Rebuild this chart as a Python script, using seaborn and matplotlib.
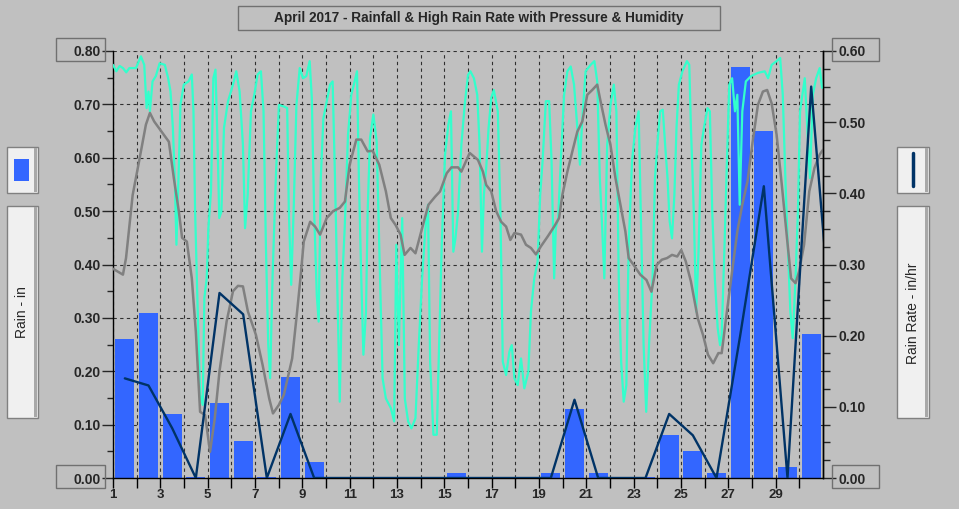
import matplotlib
matplotlib.use('Agg')
import matplotlib.pyplot as plt
import matplotlib.patches as mpatches
from matplotlib.lines import Line2D
from matplotlib.ticker import MultipleLocator
import pandas as pd
import seaborn as sns

# daily rainfall (in) and high rain rate (in/hr), April 2017
days = list(range(1, 31))
rain_in = [0.26, 0.31, 0.12, 0.002, 0.14, 0.07, 0.002, 0.19, 0.03, 0.0,
           0.0, 0.0, 0.0, 0.0, 0.01, 0.0, 0.0, 0.0, 0.01, 0.13,
           0.01, 0.0, 0.002, 0.08, 0.05, 0.01, 0.77, 0.65, 0.02, 0.27]
# rate points sit mid-day; last one is May 1 (clipped at the edge)
rate_days = [1.5, 2.5, 3.5, 4.5, 5.5, 6.5, 7.5, 8.5, 9.5, 10.5,
             11.5, 12.5, 13.5, 14.5, 15.5, 16.5, 17.5, 18.5, 19.5, 20.5,
             21.5, 22.5, 23.5, 24.5, 25.5, 26.5, 27.5, 28.5, 29.5, 30.5, 31.5]
rain_rate = [0.14, 0.13, 0.07, 0.0, 0.26, 0.23, 0.0, 0.09, 0.0, 0.0,
             0.0, 0.0, 0.0, 0.0, 0.0, 0.0, 0.0, 0.0, 0.0, 0.11,
             0.0, 0.0, 0.0, 0.09, 0.06, 0.0, 0.20, 0.41, 0.0, 0.55, 0.15]

# pressure and humidity have no axis on the chart: read against the rain scale
press_day = [1.0, 1.42, 1.55, 1.83, 2.1, 2.39, 2.56, 2.74, 3.0, 3.36, 3.57, 3.78, 3.92,
             4.12, 4.33, 4.5, 4.68, 4.89, 5.1, 5.3, 5.5, 5.8, 6.07, 6.28, 6.49, 6.7,
             7.04, 7.32, 7.6, 7.76, 8.01, 8.22, 8.57, 8.78, 8.92, 9.06, 9.33, 9.54,
             9.75, 10.03, 10.3, 10.58, 10.8, 11.0, 11.28, 11.49, 11.76, 11.97, 12.25,
             12.53, 12.74, 12.94, 13.15, 13.32, 13.57, 13.78, 14.06, 14.33, 14.61,
             14.82, 15.1, 15.3, 15.58, 15.72, 16.07, 16.42, 16.63, 16.77, 16.98,
             17.19, 17.4, 17.61, 17.79, 17.96, 18.24, 18.45, 18.66, 18.87, 19.08,
             19.36, 19.64, 19.85, 19.99, 20.2, 20.41, 20.62, 20.83, 21.04, 21.25,
             21.46, 21.6, 21.81, 22.02, 22.23, 22.44, 22.65, 22.79, 23.0, 23.28,
             23.54, 23.75, 23.97, 24.19, 24.41, 24.62, 24.84, 25.01, 25.2, 25.42,
             25.71, 25.93, 26.14, 26.36, 26.58, 26.72, 26.94, 27.16, 27.38, 27.59,
             27.81, 28.03, 28.25, 28.46, 28.64, 28.83, 29.04, 29.26, 29.48, 29.65,
             29.84, 29.99, 30.2, 30.42, 30.64, 30.86, 31.0]
press_val = [0.392, 0.381, 0.412, 0.53, 0.593, 0.662, 0.684, 0.668, 0.652, 0.63, 0.562, 0.5, 0.45,
             0.443, 0.374, 0.274, 0.124, 0.118, 0.049, 0.112, 0.2, 0.293, 0.35, 0.36, 0.359, 0.312,
             0.268, 0.212, 0.149, 0.121, 0.137, 0.156, 0.224, 0.312, 0.374, 0.443, 0.48, 0.471,
             0.456, 0.487, 0.5, 0.506, 0.518, 0.587, 0.634, 0.634, 0.612, 0.613, 0.587,
             0.537, 0.487, 0.474, 0.456, 0.418, 0.431, 0.421, 0.468, 0.512, 0.527,
             0.537, 0.571, 0.582, 0.582, 0.574, 0.609, 0.596, 0.574, 0.549, 0.537,
             0.5, 0.48, 0.471, 0.446, 0.459, 0.456, 0.437, 0.431, 0.419, 0.434,
             0.452, 0.471, 0.487, 0.531, 0.574, 0.612, 0.649, 0.668, 0.718, 0.727,
             0.737, 0.706, 0.662, 0.624, 0.562, 0.512, 0.462, 0.412, 0.399, 0.381,
             0.371, 0.349, 0.399, 0.409, 0.412, 0.418, 0.415, 0.427, 0.406, 0.368,
             0.299, 0.268, 0.231, 0.215, 0.234, 0.234, 0.312, 0.387, 0.462, 0.512,
             0.556, 0.631, 0.699, 0.724, 0.727, 0.702, 0.643, 0.549, 0.449, 0.374,
             0.365, 0.387, 0.437, 0.537, 0.581, 0.606, 0.615]

hum_day = [1.0, 1.14, 1.28, 1.42, 1.56, 1.69, 1.97, 2.18, 2.32, 2.42, 2.5, 2.56, 2.67, 2.81, 2.97,
           3.19, 3.33, 3.43, 3.53, 3.61, 3.68, 3.78, 3.85, 3.99, 4.19, 4.33, 4.4, 4.47, 4.58,
           4.68, 4.79, 4.86, 4.96, 5.03, 5.14, 5.24, 5.33, 5.42, 5.49, 5.58, 5.69, 5.86,
           6.07, 6.21, 6.35, 6.49, 6.58, 6.69, 6.83, 6.97, 7.11, 7.25, 7.36, 7.46, 7.56,
           7.64, 7.74, 7.88, 8.01, 8.22, 8.36, 8.43, 8.53, 8.64, 8.75, 8.89, 9.03, 9.17,
           9.31, 9.4, 9.5, 9.61, 9.69, 9.78, 9.89, 10.03, 10.17, 10.28, 10.38, 10.47,
           10.58, 10.69, 10.79, 10.93, 11.07, 11.21, 11.31, 11.39, 11.49, 11.58, 11.69,
           11.76, 11.86, 12.0, 12.14, 12.25, 12.39, 12.53, 12.74, 12.88, 12.97, 13.08,
           13.22, 13.33, 13.47, 13.61, 13.78, 13.92, 14.06, 14.19, 14.31, 14.4, 14.54,
           14.68, 14.78, 14.89, 15.03, 15.17, 15.28, 15.38, 15.47, 15.58, 15.72, 15.86,
           16.0, 16.1, 16.25, 16.39, 16.49, 16.59, 16.67, 16.77, 16.87, 16.98, 17.09,
           17.26, 17.37, 17.47, 17.61, 17.75, 17.85, 17.96, 18.1, 18.24, 18.38, 18.55,
           18.66, 18.8, 18.94, 19.05, 19.15, 19.29, 19.43, 19.53, 19.64, 19.71, 19.81,
           19.92, 20.06, 20.2, 20.34, 20.48, 20.62, 20.73, 20.83, 20.97, 21.18, 21.34,
           21.46, 21.57, 21.67, 21.76, 21.88, 22.02, 22.16, 22.27, 22.37, 22.47, 22.58,
           22.69, 22.79, 22.93, 23.07, 23.21, 23.3, 23.42, 23.53, 23.66, 23.8, 23.9,
           24.0, 24.12, 24.23, 24.33, 24.43, 24.52, 24.62, 24.72, 24.81, 24.91, 25.06,
           25.25, 25.35, 25.42, 25.54, 25.64, 25.74, 25.86, 25.97, 26.12, 26.22, 26.32,
           26.43, 26.55, 26.65, 26.72, 26.84, 26.94, 27.04, 27.16, 27.28, 27.38, 27.48,
           27.59, 27.74, 27.96, 28.25, 28.54, 28.68, 28.83, 29.04, 29.19, 29.3, 29.41,
           29.51, 29.62, 29.72, 29.84, 29.94, 30.03, 30.13, 30.23, 30.35, 30.45, 30.57,
           30.71, 30.86, 30.96]
hum_val = [0.774, 0.762, 0.772, 0.768, 0.76, 0.768, 0.768, 0.79, 0.774, 0.693, 0.724, 0.687, 0.743, 0.753, 0.777,
           0.774, 0.749, 0.724, 0.656, 0.562, 0.437, 0.581, 0.699, 0.737, 0.743, 0.756, 0.687, 0.499, 0.312,
           0.156, 0.137, 0.337, 0.374, 0.468, 0.537, 0.749, 0.765, 0.624, 0.487, 0.499, 0.656, 0.706,
           0.737, 0.762, 0.724, 0.624, 0.468, 0.53, 0.687, 0.718, 0.756, 0.762, 0.687, 0.437, 0.249,
           0.187, 0.374, 0.562, 0.699, 0.696, 0.693, 0.499, 0.362, 0.512, 0.699, 0.768, 0.749, 0.753,
           0.781, 0.712, 0.499, 0.343, 0.293, 0.562, 0.674, 0.706, 0.737, 0.743, 0.562, 0.374,
           0.143, 0.374, 0.468, 0.643, 0.718, 0.743, 0.762, 0.562, 0.374, 0.231, 0.312,
           0.499, 0.637, 0.681, 0.631, 0.437, 0.187, 0.149, 0.131, 0.106, 0.437, 0.249,
           0.487, 0.149, 0.106, 0.093, 0.112, 0.249, 0.374, 0.462, 0.512, 0.218, 0.081,
           0.081, 0.249, 0.437, 0.606, 0.662, 0.687, 0.424, 0.449, 0.499, 0.624, 0.699,
           0.755, 0.762, 0.749, 0.718, 0.624, 0.424, 0.53, 0.581, 0.656, 0.712, 0.727,
           0.687, 0.499, 0.218, 0.193, 0.237, 0.249, 0.187, 0.174, 0.224, 0.168, 0.199,
           0.312, 0.374, 0.405, 0.53, 0.593, 0.706, 0.706, 0.593, 0.374, 0.468, 0.487,
           0.593, 0.718, 0.762, 0.771, 0.737, 0.656, 0.587, 0.674, 0.762, 0.774, 0.781,
           0.743, 0.562, 0.468, 0.374, 0.624, 0.699, 0.737, 0.687, 0.374, 0.218, 0.143,
           0.174, 0.437, 0.593, 0.656, 0.687, 0.5, 0.249, 0.124, 0.26, 0.374, 0.562,
           0.624, 0.687, 0.69, 0.624, 0.562, 0.481, 0.449, 0.53, 0.656, 0.737, 0.762,
           0.781, 0.774, 0.656, 0.499, 0.312, 0.424, 0.624, 0.656, 0.693, 0.687, 0.499,
           0.374, 0.281, 0.249, 0.268, 0.437, 0.593, 0.737, 0.749, 0.687, 0.718, 0.512,
           0.687, 0.743, 0.753, 0.759, 0.762, 0.749, 0.774, 0.781, 0.787, 0.718, 0.562,
           0.437, 0.312, 0.262, 0.374, 0.499, 0.687, 0.718, 0.749, 0.643, 0.562, 0.718,
           0.749, 0.768, 0.731]

BG = '#C0C0C0'
BLUE = '#3366FF'
NAVY = '#003366'
W, H = 959, 509

sns.set_style('ticks')
plt.rcParams['font.family'] = ['Liberation Sans', 'DejaVu Sans']

fig = plt.figure(figsize=(W / 100, H / 100), dpi=100, facecolor=BG)
ax = fig.add_axes([113 / W, 31 / H, 710 / W, 427 / H])
ax.set_facecolor(BG)

df_rain = pd.DataFrame({'day': [d + 0.5 for d in days], 'rain': rain_in})
sns.barplot(data=df_rain, x='day', y='rain', native_scale=True, width=0.8,
            color=BLUE, saturation=1, errorbar=None, edgecolor='none',
            linewidth=0, ax=ax, zorder=2)
sns.lineplot(x=hum_day, y=hum_val, color='#33FFCC', lw=1.6, estimator=None,
             sort=False, ax=ax, zorder=3)
sns.lineplot(x=press_day, y=press_val, color='#808080', lw=1.8, estimator=None,
             sort=False, ax=ax, zorder=4)

ax2 = ax.twinx()
sns.lineplot(x=rate_days, y=rain_rate, color=NAVY, lw=1.7, estimator=None,
             sort=False, ax=ax2)

ax.set_xlim(1, 31)
ax.set_ylim(0, 0.8)
ax2.set_ylim(0, 0.6)
ax.set_xlabel('')
ax.set_ylabel('')
ax2.set_ylabel('')

ax.set_xticks(days)
ax.set_xticklabels([str(d) if d % 2 else '' for d in days], fontweight='bold', fontsize=9.5)
yt = [0.0, 0.1, 0.2, 0.3, 0.4, 0.5, 0.6, 0.7, 0.8]
ax.set_yticks(yt)
ax.set_yticklabels(['%.2f' % v for v in yt], fontweight='bold', fontsize=10)
ax.yaxis.set_minor_locator(MultipleLocator(0.05))
rt = [0.0, 0.1, 0.2, 0.3, 0.4, 0.5, 0.6]
ax2.set_yticks(rt)
ax2.set_yticklabels(['%.2f' % v for v in rt], fontweight='bold', fontsize=10)
ax2.yaxis.set_minor_locator(MultipleLocator(0.025))

ax.tick_params(axis='x', length=7, width=1, pad=1, color='black')
ax.tick_params(axis='y', which='major', length=8, width=1, pad=1)
ax.tick_params(axis='y', which='minor', length=4, width=1)
ax2.tick_params(axis='y', which='major', length=9, width=1, pad=2)
ax2.tick_params(axis='y', which='minor', length=5, width=1)

ax.grid(True, ls=(0, (3, 3)), color='#303030', lw=0.8)
ax.set_axisbelow(True)
for a in (ax, ax2):
    a.spines['top'].set_visible(False)
    for s in ('left', 'right', 'bottom'):
        a.spines[s].set_color('black')
        a.spines[s].set_linewidth(1)
ax2.spines['left'].set_visible(False)
ax2.spines['bottom'].set_visible(False)


def px_rect(x0, y0, x1, y1, fc='none', ec='#707070', lw=1.0):
    r = mpatches.Rectangle((x0 / W, 1 - y1 / H), (x1 - x0) / W, (y1 - y0) / H,
                           transform=fig.transFigure, fc=fc, ec=ec, lw=lw)
    fig.add_artist(r)


def legend_box(x0, y0, x1, y1):
    px_rect(x0, y0, x1, y1, fc='#F0F0F0', ec='#808080')
    px_rect(x1 - 4, y0 + 1, x1 - 1, y1 - 1, fc='#A8A8A8', ec='none')


# title and value boxes
px_rect(238, 6, 720, 30)
fig.text(479 / W, 1 - 18 / H, 'April 2017 - Rainfall & High Rain Rate with Pressure & Humidity',
         ha='center', va='center', fontsize=9.8, fontweight='bold')
px_rect(56, 38, 105, 61)
px_rect(56, 465, 105, 488)
px_rect(832, 38, 879, 61)
px_rect(832, 465, 879, 488)

# side legends
legend_box(7, 147, 38, 193)
px_rect(14, 159, 29, 181, fc=BLUE, ec='none')
legend_box(7, 206, 38, 418)
fig.text(22 / W, 1 - 312 / H, 'Rain - in', rotation=90, ha='center', va='center', fontsize=10)

legend_box(897, 147, 929, 193)
fig.add_artist(Line2D([913 / W, 913 / W], [1 - 153 / H, 1 - 186 / H],
                      transform=fig.transFigure, color=NAVY, lw=2.5))
legend_box(897, 206, 929, 418)
fig.text(913 / W, 1 - 313 / H, 'Rain Rate - in/hr', rotation=90, ha='center', va='center',
         fontsize=10)

fig.savefig('out.png', dpi=100, facecolor=BG)
